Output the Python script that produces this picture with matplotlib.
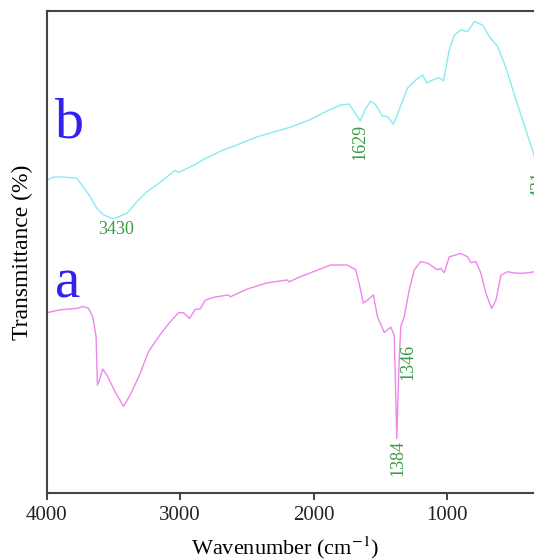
"""FTIR transmittance spectra of samples a and b, stacked with offsets."""
import matplotlib
matplotlib.use("Agg")

import matplotlib.pyplot as plt

# ---------------------------------------------------------------------------
# Data (transmittance in arbitrary stacked units)
# ---------------------------------------------------------------------------
wn_b = [4000, 3953, 3900, 3775, 3725, 3675, 3625, 3575, 3500, 3400, 3325,
        3250, 3152, 3040, 3013, 2975, 2900, 2825, 2675, 2575, 2425, 2348,
        2173, 2023, 1898, 1798, 1735, 1697, 1652, 1610, 1573, 1535, 1485,
        1448, 1403, 1360, 1298, 1235, 1185, 1153, 1110, 1060, 1028, 985,
        947, 898, 848, 797, 735, 685, 623, 572, 535, 485, 422, 347, 300]
tr_b = [64.9, 65.5, 65.6, 65.3, 63.5, 61.5, 59.1, 57.7, 56.9, 58.0, 60.4,
        62.5, 64.4, 66.9, 66.5, 67.0, 68.0, 69.2, 71.2, 72.2, 73.9, 74.5,
        75.9, 77.5, 79.3, 80.5, 80.7, 79.1, 77.2, 79.8, 81.3, 80.5, 78.2,
        78.1, 76.5, 79.5, 84.0, 85.7, 86.7, 85.1, 85.7, 86.2, 85.5, 91.9,
        95.0, 96.1, 95.7, 97.8, 97.1, 94.7, 92.6, 89.1, 86.0, 81.5, 76.3,
        69.8, 66.0]

wn_a = [4000, 3900, 3775, 3725, 3688, 3655, 3630, 3620, 3605, 3580, 3550,
        3488, 3425, 3375, 3300, 3238, 3152, 3075, 3013, 2975, 2930, 2888,
        2850, 2813, 2750, 2638, 2625, 2500, 2348, 2198, 2185, 2098, 1873,
        1748, 1685, 1660, 1628, 1598, 1553, 1523, 1472, 1423, 1397, 1378,
        1360, 1348, 1322, 1285, 1247, 1198, 1148, 1073, 1048, 1022, 985,
        898, 848, 823, 785, 748, 710, 668, 635, 598, 548, 485, 422, 347, 300]
tr_a = [37.4, 38.0, 38.3, 38.7, 38.3, 36.6, 32.4, 22.4, 23.4, 25.7, 24.5,
        21.0, 18.0, 20.3, 24.8, 29.3, 32.8, 35.5, 37.4, 37.4, 36.2, 38.1,
        38.2, 40.0, 40.6, 41.1, 40.7, 42.3, 43.6, 44.2, 43.8, 44.9, 47.3,
        47.3, 46.3, 43.5, 39.4, 40.0, 41.1, 36.6, 33.3, 34.4, 32.8, 11.3,
        27.6, 34.5, 36.6, 42.1, 46.3, 48.0, 47.7, 46.3, 46.6, 45.7, 49.0,
        49.7, 49.0, 47.8, 48.0, 45.6, 41.4, 38.3, 40.0, 45.2, 45.9, 45.6,
        45.6, 45.9, 46.1]

# Peak annotations: (wavenumber, transmittance, text, rotation)
peaks_b = [(3480, 54.6, "3430", 0), (1655, 72.9, "1629", 90),
           (315, 64.0, "431", 90)]
peaks_a = [(1373, 7.2, "1384", 90), (1298, 27.2, "1346", 90)]

CYAN = "#86ecf2"
MAGENTA = "#ee86ee"
GREEN = "#3a9a44"
BLUE = "#3322ee"

plt.rcParams["font.family"] = ["Liberation Serif", "DejaVu Serif"]
plt.rcParams["mathtext.fontset"] = "stix"

fig = plt.figure(figsize=(5.34, 5.6), dpi=100)
# axes run past the right edge of the figure, as in the cropped reference
ax = fig.add_axes([46.7 / 534, 1 - 493 / 560, 494 / 534, 482 / 560])

ax.plot(wn_b, tr_b, color=CYAN, lw=1.0)
ax.plot(wn_a, tr_a, color=MAGENTA, lw=1.0)

for wn, tr, txt, rot in peaks_b + peaks_a:
    ax.text(wn, tr, txt, color=GREEN, fontsize=13, rotation=rot,
            ha="center", va="center")

# sample letters
ax.text(3830, 73.7, "b", color=BLUE, fontsize=42, ha="center", va="baseline")
ax.text(3845, 40.5, "a", color=BLUE, fontsize=41, ha="center", va="baseline")

ax.set_xlim(4000, 300)
ax.set_ylim(0, 100)
ax.set_xticks([4000, 3000, 2000, 1000])
ax.set_yticks([])
ax.tick_params(axis="x", direction="out", length=5, width=1.2,
               labelsize=15, pad=4, colors="#222222")

for side in ("left", "top", "bottom"):
    ax.spines[side].set_color("#444444")
    ax.spines[side].set_linewidth(1.5)
ax.spines["right"].set_visible(False)

ax.set_ylabel("Transmittance (%)", fontsize=17, labelpad=10)
ax.set_xlabel(r"Wavenumber (cm$^{-1}$)", fontsize=16)
ax.xaxis.set_label_coords((284.7 - 46.7) / 494, -0.087)

fig.savefig("out.png", dpi=100)
plt.close(fig)
